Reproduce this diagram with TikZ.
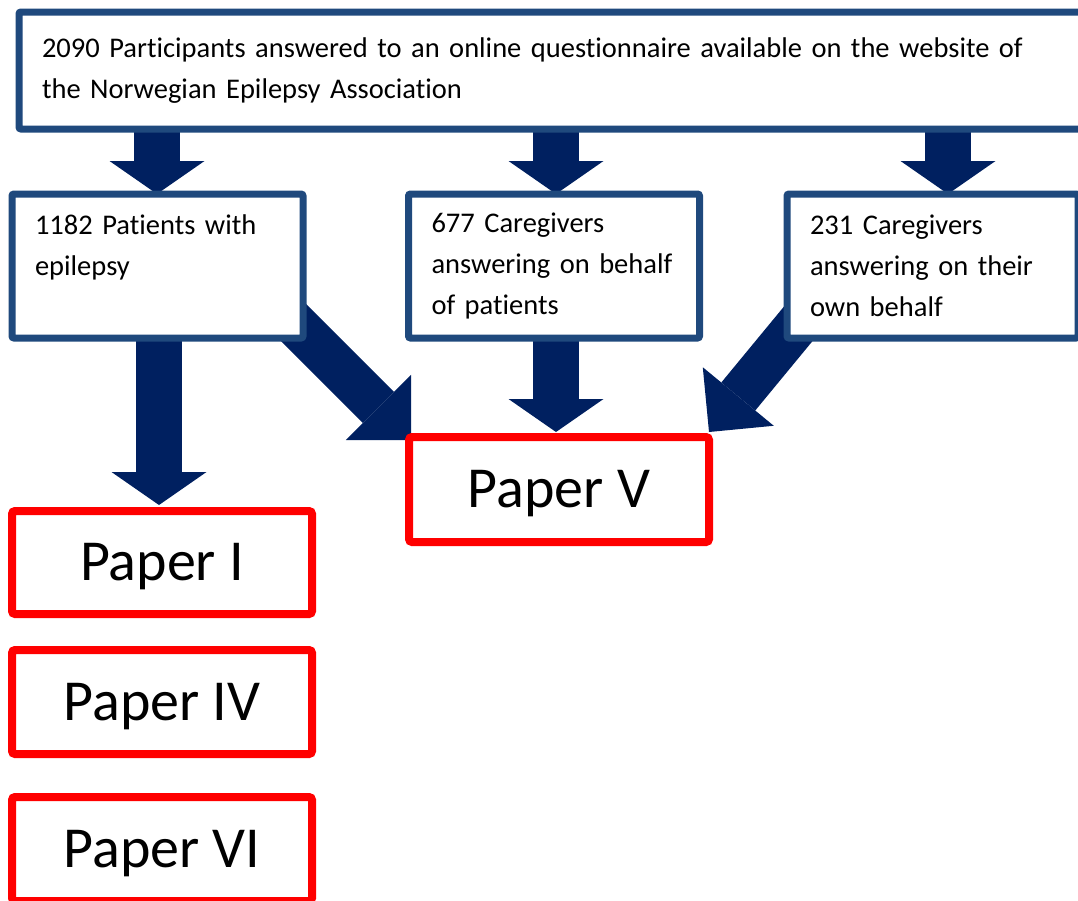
\documentclass[tikz,border=0pt]{standalone}
\usepackage{fontspec}
\setmainfont{Carlito}[Ligatures=NoCommon]
\usetikzlibrary{arrows.meta,backgrounds}
\definecolor{navy}{HTML}{002060}
\definecolor{boxblue}{HTML}{1F497D}
\definecolor{pred}{HTML}{FF0000}
\begin{document}
\begin{tikzpicture}[x=1pt,y=-1pt,
  bluebox/.style={draw=boxblue, line width=7pt, fill=white, rounded corners=2pt,
    outer sep=0pt, inner xsep=23pt, inner ysep=0pt, align=left, anchor=north west,
    font=\fontsize{28.5}{41}\selectfont},
  redbox/.style={draw=pred, line width=8pt, fill=white, rounded corners=3pt,
    outer sep=0pt, anchor=north west, inner sep=0pt, minimum width=300pt,
    text height=36pt, text depth=0pt, font=\fontsize{58}{60}\selectfont},
  blk/.style={draw=navy, line width=46pt, -{Triangle[width=95pt,length=33pt,line width=0pt]}},
  blkd/.style={draw=navy, line width=44pt, -{Triangle[width=92pt,length=46pt,line width=0pt]}}]
\useasboundingbox (0,0) rectangle (1078,900);

% boxes
\node[bluebox, text width=1025pt, minimum height=117pt] (topbox) at (19,12)
  {2090 Participants answered to an online questionnaire available on the website of\\the Norwegian Epilepsy Association};
\node[bluebox, text width=245pt, minimum height=144pt] (Abox) at (12,194)
  {1182 Patients with\\epilepsy\\\mbox{}};
\node[bluebox, text width=245pt, minimum height=144pt] (Bbox) at (408.5,194)
  {677 Caregivers\\answering on behalf\\of patients};
\node[bluebox, text width=245pt, minimum height=144pt] (Cbox) at (787,194)
  {231 Caregivers\\answering on their\\own behalf};

\node[redbox, minimum height=103pt] (p1) at (12,511) {Paper I};
\node[redbox, minimum height=104pt] (p4) at (12,650) {Paper IV};
\node[redbox, minimum height=104pt] (p6) at (12,797) {Paper VI};
\node[redbox, minimum height=105pt] (p5) at (409,437) {Paper V};

% arrow end points
\coordinate (t1) at (157,194);
\coordinate (t2) at (556,194);
\coordinate (t3) at (948,194);
\coordinate (t4) at (159,505);
\coordinate (t5) at (556,432);
\coordinate (t6) at (411,440);
\coordinate (t7) at (709,432);
\coordinate (s6) at (261,290);
\coordinate (s7) at (836,278);

\begin{scope}[on background layer]
  \draw[blk] (topbox.south -| t1) -- (t1);
  \draw[blk] (topbox.south -| t2) -- (t2);
  \draw[blk] (topbox.south -| t3) -- (t3);
  \draw[blk] (Abox.south -| t4) -- (t4);
  \draw[blk] (Bbox.south -| t5) -- (t5);
  \draw[blkd] (s6) -- (t6);
  \draw[blkd] (s7) -- (t7);
\end{scope}
\end{tikzpicture}
\end{document}
